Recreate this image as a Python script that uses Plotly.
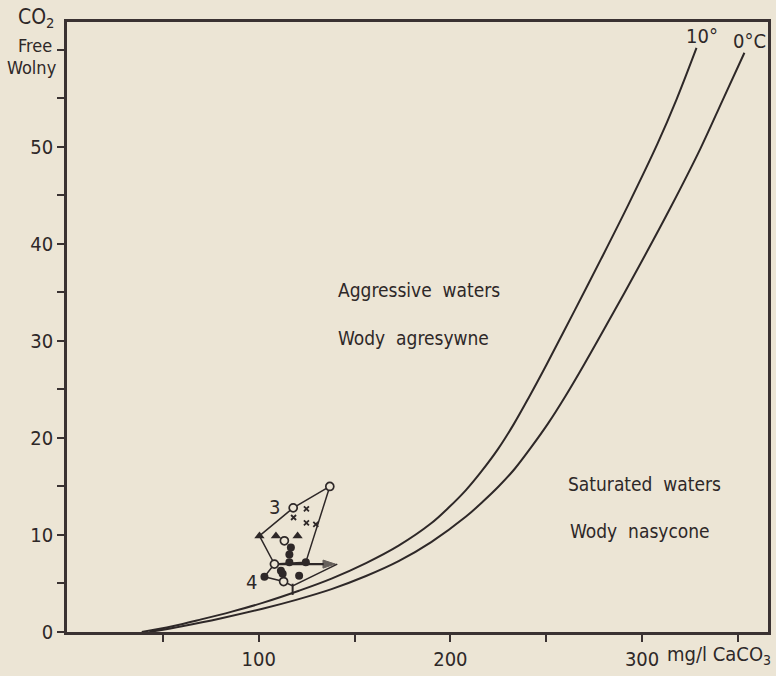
import plotly.graph_objects as go

# ---- data ----
curve10_x = [39, 55, 70, 86, 102, 121, 138, 156, 173, 190, 199, 208, 216, 225, 233, 241,
             250, 265, 278.5, 293, 308, 318, 328.4]
curve10_y = [0, 0.6, 1.3, 2.1, 3.0, 4.25, 5.5, 7.1, 8.9, 11.2, 12.8, 14.6, 16.5, 18.9, 21.4, 24.2,
             27.5, 33.2, 38.4, 44.1, 50.3, 54.9, 60.2]
curve0_x = [43, 60, 80, 102, 120, 138, 156, 173, 190, 208, 217, 225, 233.5, 242, 251, 260, 270, 285,
            299, 315, 330.5, 342, 353.4]
curve0_y = [0, 0.6, 1.4, 2.4, 3.34, 4.42, 5.77, 7.3, 9.26, 11.87, 13.45, 14.97, 16.8, 19.0, 21.5, 24.3, 27.65, 32.9,
            37.9, 43.8, 49.85, 54.8, 59.7]

poly3_x = [100.4, 118.0, 137.1, 124.6, 108.2, 100.4]
poly3_y = [9.9, 12.8, 15.0, 7.2, 7.0, 9.9]
poly4_x = [108.2, 103.0, 113.0, 117.7, 141.0]
poly4_y = [7.0, 5.7, 5.2, 4.76, 7.0]
arrow_x = [108.2, 140.0]
arrow_y = [7.0, 7.0]

open_x = [118.0, 137.1, 113.4, 108.2, 113.0]
open_y = [12.8, 15.0, 9.4, 7.0, 5.2]
filled_x = [116.8, 116.0, 116.0, 124.6, 103.0, 111.6, 112.5, 121.1]
filled_y = [8.7, 8.0, 7.2, 7.2, 5.7, 6.3, 6.0, 5.8]
tri_x = [100.4, 109.0, 120.3]
tri_y = [9.9, 9.9, 9.9]
cross_x = [124.9, 118.2, 124.9, 129.8]
cross_y = [12.7, 11.8, 11.25, 11.1]
bar_x = [117.7]
bar_y = [4.4]

x_tickvals = [50, 100, 150, 200, 250, 300, 350]
x_ticktext = ["", "100", "", "200", "", "300", ""]
y_tickvals = [0, 5, 10, 15, 20, 25, 30, 35, 40, 45, 50, 55, 60]
y_ticktext = ["0", "", "10", "", "20", "", "30", "", "40", "", "50", "", ""]

BG = "#ece5d5"
INK = "#2e2828"
FONT = "Liberation Sans Narrow, DejaVu Sans Condensed, Arial Narrow, sans-serif"

fig = go.Figure()
fig.add_trace(go.Scatter(x=curve10_x, y=curve10_y, mode="lines",
                         line=dict(color=INK, width=2, shape="spline", smoothing=1.0)))
fig.add_trace(go.Scatter(x=curve0_x, y=curve0_y, mode="lines",
                         line=dict(color=INK, width=2, shape="spline", smoothing=1.0)))
fig.add_trace(go.Scatter(x=poly3_x, y=poly3_y, mode="lines",
                         line=dict(color=INK, width=1.5)))
fig.add_trace(go.Scatter(x=poly4_x, y=poly4_y, mode="lines",
                         line=dict(color=INK, width=1.5)))
fig.add_trace(go.Scatter(x=arrow_x, y=arrow_y, mode="lines+markers",
                         line=dict(color=INK, width=2.2),
                         marker=dict(symbol=["circle", "arrow"], size=[0, 13],
                                     angleref="previous", color=INK,
                                     line=dict(color=INK, width=1))))
fig.add_trace(go.Scatter(x=bar_x, y=bar_y, mode="markers",
                         marker=dict(symbol="line-ns", size=8,
                                     line=dict(color=INK, width=2))))
fig.add_trace(go.Scatter(x=filled_x, y=filled_y, mode="markers",
                         marker=dict(symbol="circle", size=8, color=INK)))
fig.add_trace(go.Scatter(x=tri_x, y=tri_y, mode="markers",
                         marker=dict(symbol="triangle-up", size=9, color=INK)))
fig.add_trace(go.Scatter(x=cross_x, y=cross_y, mode="markers",
                         marker=dict(symbol="x-thin", size=5,
                                     line=dict(color=INK, width=1.8))))
fig.add_trace(go.Scatter(x=open_x, y=open_y, mode="markers",
                         marker=dict(symbol="circle", size=8, color=BG,
                                     line=dict(color=INK, width=1.7))))

def txt(x, y, s, size=19, xanchor="left", xref="x", yref="y", yanchor="middle"):
    fig.add_annotation(x=x, y=y, xref=xref, yref=yref, text=s, showarrow=False,
                       xanchor=xanchor, yanchor=yanchor,
                       font=dict(family=FONT, size=size, color=INK))

txt(140.2, 35.3, "Aggressive\u00a0\u00a0waters")
txt(140.4, 30.3, "Wody\u00a0\u00a0agresywne")
txt(260.5, 15.3, "Saturated\u00a0\u00a0waters")
txt(261.5, 10.4, "Wody\u00a0\u00a0nasycone")
txt(108.2, 12.9, "3", size=20, xanchor="center")
txt(96.2, 5.2, "4", size=20, xanchor="center")
txt(331.5, 61.4, "10°", size=20, xanchor="center")
txt(356.2, 60.9, "0°C", size=20, xanchor="center")

txt(-0.016, 1.006, "CO<sub>2</sub>", size=21, xanchor="right", xref="paper", yref="paper")
txt(-0.019, 0.962, "Free", size=18, xanchor="right", xref="paper", yref="paper")
txt(-0.012, 0.925, "Wolny", size=18, xanchor="right", xref="paper", yref="paper")
txt(0.8526, -0.038, "mg/l CaCO<sub>3</sub>", size=20, xanchor="left", xref="paper", yref="paper")

axis_common = dict(showline=True, mirror=True, linecolor="#3a3232", linewidth=2.5,
                   ticks="outside", ticklen=7, tickwidth=2, tickcolor="#3a3232",
                   showgrid=False, zeroline=False,
                   tickfont=dict(family=FONT, size=20, color=INK))

fig.update_layout(
    width=776, height=676,
    margin=dict(l=67, r=5, t=22, b=37),
    paper_bgcolor=BG, plot_bgcolor=BG,
    showlegend=False,
    xaxis=dict(range=[0, 365.7], tickvals=x_tickvals, ticktext=x_ticktext, **axis_common),
    yaxis=dict(range=[0, 62.87], tickvals=y_tickvals, ticktext=y_ticktext, **axis_common),
)

fig.write_html("out.html")
